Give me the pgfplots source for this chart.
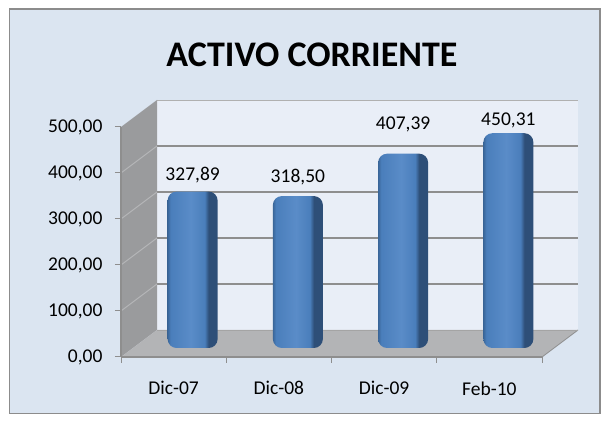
\documentclass[border=0pt]{standalone}
\usepackage{pgfplots}
\pgfplotsset{compat=1.18}
\usepackage{fontspec}
\setmainfont{Carlito}
\definecolor{bg}{HTML}{DBE5F1}
\definecolor{frame}{HTML}{8C8C8C}
\definecolor{wall}{HTML}{E9EEF7}
\definecolor{gridc}{HTML}{8E8E8E}
\definecolor{side}{HTML}{9A9B9D}
\definecolor{sidel}{HTML}{B4B5B7}
\definecolor{floorc}{HTML}{B3B4B6}
\definecolor{barA}{HTML}{4A7EBB}
\definecolor{barL}{HTML}{5A8CC8}
\definecolor{barB}{HTML}{3A6699}
\definecolor{barC}{HTML}{2E4F78}
\pgfdeclarehorizontalshading{barshade}{100bp}{color(0bp)=(barB); color(25bp)=(barB); color(28bp)=(barA); color(48bp)=(barL); color(62bp)=(barA); color(66bp)=(barC); color(75bp)=(barC); color(100bp)=(barC)}
\begin{document}
\begin{tikzpicture}
\path[use as bounding box] (0pt,0pt) rectangle (605pt,422pt);
\draw[draw=frame, line width=1.2pt, fill=bg] (9.5pt,8.5pt) rectangle (600pt,413pt);
\node[font=\bfseries\fontsize{36}{40}\selectfont] at (312pt,367pt) {ACTIVO CORRIENTE};
% back wall
\begin{axis}[at={(157pt,92pt)}, anchor=south west, scale only axis,
  width=421pt, height=230pt, xmin=0, xmax=4, ymin=0, ymax=500,
  xtick=\empty, ytick={100,200,300,400}, yticklabels={},
  major tick length=0pt, ymajorgrids, grid style={gridc, line width=1.5pt},
  axis line style={draw=none}, axis background/.style={fill=wall}]
\end{axis}
\draw[gridc!70, line width=0.8pt] (157pt,322pt) -- (578pt,322pt);
% side wall
\fill[side] (121pt,65pt) -- (157pt,92pt) -- (157pt,322pt) -- (121pt,295pt) -- cycle;
\foreach \v in {100,200,300,400} {
  \draw[sidel, line width=1pt] (121pt,65pt+0.46*\v pt) -- (157pt,92pt+0.46*\v pt);
}
% floor
\fill[floorc] (121pt,65pt) -- (542pt,65pt) -- (578pt,92pt) -- (157pt,92pt) -- cycle;
\draw[gridc, line width=0.8pt] (542pt,65pt) -- (578pt,92pt);
\draw[gridc!80, line width=0.8pt] (157pt,92pt) -- (578pt,92pt);
% bars
\begin{axis}[at={(140pt,74pt)}, anchor=south west, scale only axis,
  width=421pt, height=238.5pt, xmin=0, xmax=4, ymin=0, ymax=500,
  hide axis, clip=false]
\addplot[ybar, bar width=50pt, bar shift=0pt, draw=none, shading=barshade, rounded corners=9pt] coordinates {(0.5,327.89)};
\addplot[ybar, bar width=50pt, bar shift=0pt, draw=none, shading=barshade, rounded corners=9pt] coordinates {(1.5,318.50)};
\addplot[ybar, bar width=50pt, bar shift=0pt, draw=none, shading=barshade, rounded corners=9pt] coordinates {(2.5,407.39)};
\addplot[ybar, bar width=50pt, bar shift=0pt, draw=none, shading=barshade, rounded corners=9pt] coordinates {(3.5,450.31)};
\addplot[draw=none, mark=none, nodes near coords, point meta=explicit symbolic,
  nodes near coords style={font=\fontsize{19.5}{22}\selectfont, anchor=center, text=black}]
  table[meta=lab] {
x y lab
0.5 362.6 327,89
1.5 358.4 318,50
2.5 469.5 407,39
3.5 478.0 450,31
};
\end{axis}
% front axis
\begin{axis}[at={(121pt,65pt)}, anchor=south west, scale only axis,
  width=421pt, height=230pt, xmin=0, xmax=4, ymin=0, ymax=500,
  axis x line*=bottom, axis y line*=left,
  axis line style={gridc, line width=1.6pt},
  xtick={0,1,2,3,4}, xticklabels={},
  extra x ticks={0.5,1.5,2.5,3.5},
  extra x tick labels={Dic-07,Dic-08,Dic-09,Feb-10},
  extra x tick style={tick style={draw=none}},
  ytick={0,100,200,300,400,500},
  yticklabels={{0,00},{100,00},{200,00},{300,00},{400,00},{500,00}},
  tick align=outside, major tick length=6pt,
  tick style={gridc, line width=1pt},
  tick label style={font=\fontsize{19.5}{22}\selectfont, text=black},
  xticklabel style={yshift=-15pt},
  yticklabel style={xshift=-9pt}]
\end{axis}
\end{tikzpicture}
\end{document}
